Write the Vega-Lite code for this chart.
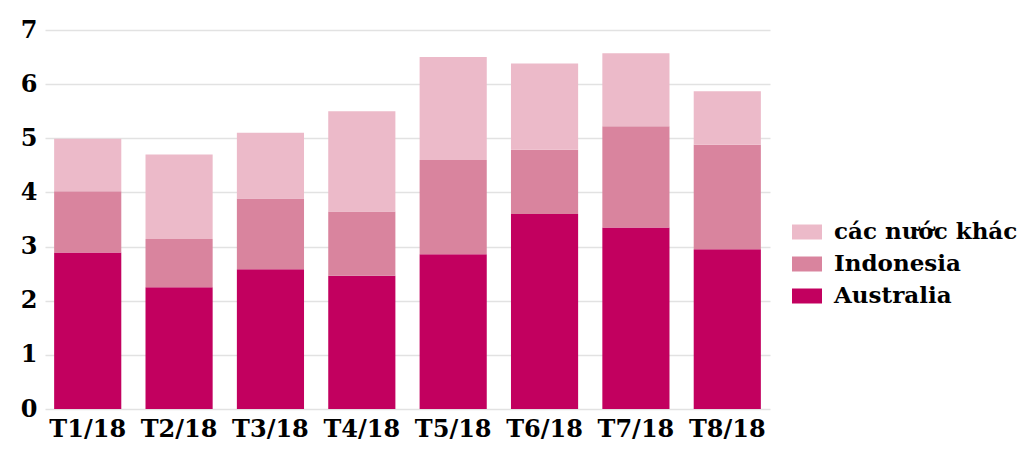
{
  "$schema": "https://vega.github.io/schema/vega-lite/v6.json",
  "autosize": "none",
  "width": 725,
  "height": 379,
  "padding": {"left": 45, "top": 30, "right": 254, "bottom": 40},
  "background": "white",
  "data": {
    "values": [
      {"month": "T1/18", "series": "Australia", "value": 2.89, "ord": 1},
      {"month": "T1/18", "series": "Indonesia", "value": 1.13, "ord": 2},
      {"month": "T1/18", "series": "các nước khác", "value": 0.97, "ord": 3},
      {"month": "T2/18", "series": "Australia", "value": 2.25, "ord": 1},
      {"month": "T2/18", "series": "Indonesia", "value": 0.89, "ord": 2},
      {"month": "T2/18", "series": "các nước khác", "value": 1.56, "ord": 3},
      {"month": "T3/18", "series": "Australia", "value": 2.58, "ord": 1},
      {"month": "T3/18", "series": "Indonesia", "value": 1.31, "ord": 2},
      {"month": "T3/18", "series": "các nước khác", "value": 1.21, "ord": 3},
      {"month": "T4/18", "series": "Australia", "value": 2.46, "ord": 1},
      {"month": "T4/18", "series": "Indonesia", "value": 1.19, "ord": 2},
      {"month": "T4/18", "series": "các nước khác", "value": 1.85, "ord": 3},
      {"month": "T5/18", "series": "Australia", "value": 2.86, "ord": 1},
      {"month": "T5/18", "series": "Indonesia", "value": 1.74, "ord": 2},
      {"month": "T5/18", "series": "các nước khác", "value": 1.90, "ord": 3},
      {"month": "T6/18", "series": "Australia", "value": 3.60, "ord": 1},
      {"month": "T6/18", "series": "Indonesia", "value": 1.19, "ord": 2},
      {"month": "T6/18", "series": "các nước khác", "value": 1.59, "ord": 3},
      {"month": "T7/18", "series": "Australia", "value": 3.35, "ord": 1},
      {"month": "T7/18", "series": "Indonesia", "value": 1.87, "ord": 2},
      {"month": "T7/18", "series": "các nước khác", "value": 1.35, "ord": 3},
      {"month": "T8/18", "series": "Australia", "value": 2.95, "ord": 1},
      {"month": "T8/18", "series": "Indonesia", "value": 1.93, "ord": 2},
      {"month": "T8/18", "series": "các nước khác", "value": 0.99, "ord": 3}
    ]
  },
  "mark": {"type": "bar"},
  "encoding": {
    "x": {
      "field": "month",
      "type": "nominal",
      "sort": null,
      "scale": {"paddingInner": 0.265, "paddingOuter": 0.1},
      "axis": {
        "title": null,
        "labelAngle": 0,
        "domain": false,
        "ticks": false,
        "labelPadding": 8,
        "labelFont": "DejaVu Serif",
        "labelFontWeight": "bold",
        "labelFontSize": 24,
        "labelColor": "black"
      }
    },
    "y": {
      "field": "value",
      "type": "quantitative",
      "stack": "zero",
      "scale": {"domain": [0, 7], "nice": false},
      "axis": {
        "title": null,
        "values": [0, 1, 2, 3, 4, 5, 6, 7],
        "domain": false,
        "ticks": false,
        "labelPadding": 8,
        "labelFont": "DejaVu Serif",
        "labelFontWeight": "bold",
        "labelFontSize": 24,
        "labelColor": "black",
        "gridColor": "#e2e2e2",
        "gridWidth": 1.5
      }
    },
    "color": {
      "field": "series",
      "type": "nominal",
      "scale": {
        "domain": ["các nước khác", "Indonesia", "Australia"],
        "range": ["#ecbac9", "#d9849e", "#c2005f"]
      },
      "legend": {
        "title": null,
        "orient": "none",
        "legendX": 747,
        "legendY": 187,
        "symbolType": "M-1,-0.5H1V0.5H-1Z",
        "symbolSize": 900,
        "symbolStrokeWidth": 0,
        "symbolOpacity": 1,
        "labelFont": "DejaVu Serif",
        "labelFontWeight": "bold",
        "labelFontSize": 23,
        "labelColor": "black",
        "labelLimit": 300,
        "rowPadding": 5,
        "labelOffset": 12
      }
    },
    "order": {"field": "ord", "type": "quantitative"}
  },
  "config": {"view": {"stroke": null}}
}
